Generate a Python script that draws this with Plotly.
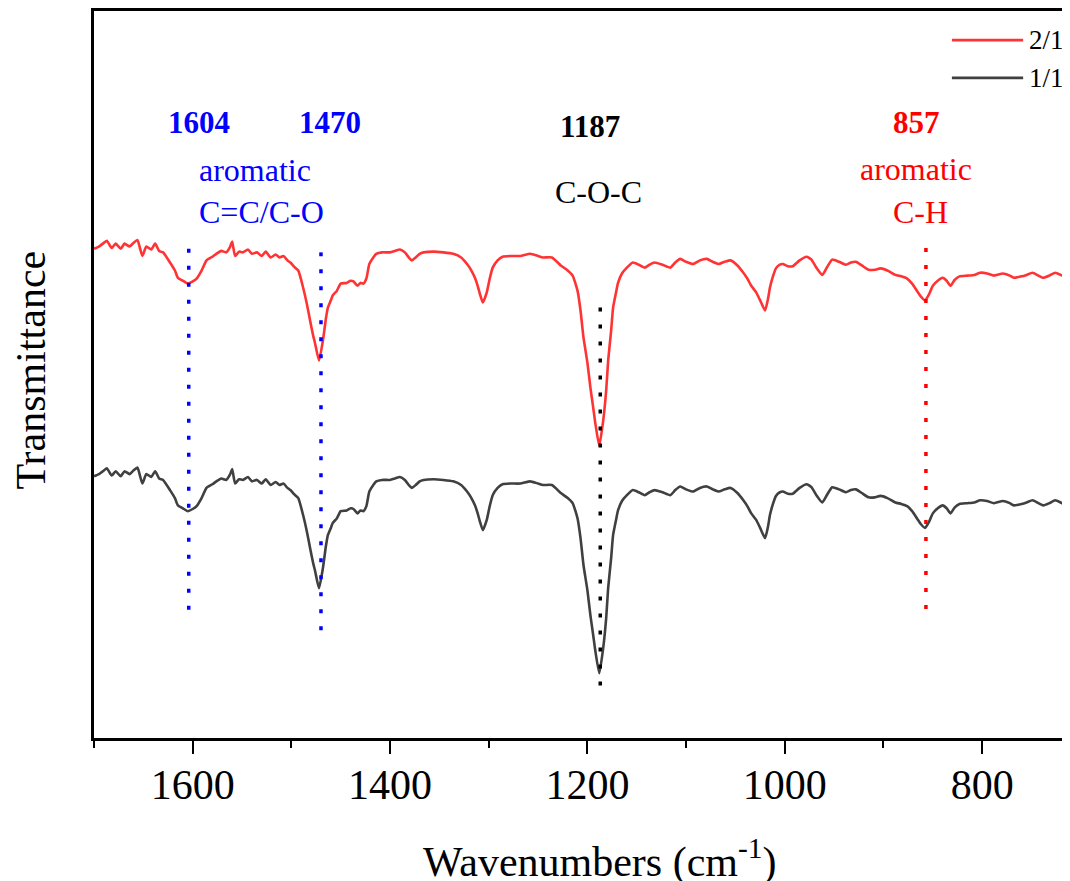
import plotly.graph_objects as go

# ---------------- data ----------------
wavenumber = [
    1700, 1695, 1690, 1687, 1682, 1678, 1673, 1669, 1664, 1660,
    1656, 1651, 1647, 1642, 1638, 1634, 1630, 1623, 1618, 1615,
    1610, 1605, 1600, 1596, 1591, 1586, 1580, 1576, 1571, 1566,
    1562, 1560, 1557, 1553, 1549, 1544, 1540, 1535, 1530, 1526,
    1521, 1516, 1512, 1508, 1504, 1501, 1497, 1493, 1488, 1484,
    1481, 1478, 1476, 1472, 1468, 1465, 1463, 1460, 1458, 1454,
    1450, 1444, 1440, 1437, 1433, 1430, 1427, 1424, 1421, 1417,
    1414, 1408, 1400, 1395, 1390, 1385, 1381, 1378, 1374, 1370,
    1366, 1356, 1346, 1336, 1328, 1322, 1318, 1314, 1311, 1309,
    1306, 1302, 1299, 1296, 1291, 1286, 1278, 1268, 1258, 1250,
    1245, 1236, 1227, 1220, 1215, 1210, 1207, 1204, 1200, 1197,
    1194, 1192, 1188, 1184, 1181, 1179, 1176, 1174, 1171, 1169,
    1165, 1160, 1154, 1148, 1142, 1137, 1132, 1124, 1116, 1111,
    1106, 1100, 1093, 1086, 1079, 1073, 1067, 1061, 1055, 1048,
    1042, 1038, 1034, 1029, 1025, 1020, 1017, 1015, 1012, 1009,
    1005, 1002, 997, 992, 985, 978, 973, 968, 962, 957,
    952, 945, 938, 933, 928, 922, 915, 909, 903, 896,
    888, 882, 876, 871, 866, 862, 858, 854, 850, 845,
    840, 836, 832, 828, 823, 815, 808, 802, 795, 788,
    779, 772, 768, 760, 755, 749, 743, 738, 732, 726,
    719, 712, 710,
]

trans_2_1 = [
    67.3, 67.6, 68.1, 68.4, 67.4, 68.0, 67.3, 68.0, 67.6, 68.1,
    68.5, 66.3, 67.6, 67.2, 68.0, 67.0, 66.8, 65.4, 64.3, 63.3,
    62.9, 62.5, 62.8, 63.2, 64.3, 65.7, 66.2, 66.6, 67.0, 66.8,
    67.6, 68.3, 66.3, 66.9, 66.8, 67.2, 66.6, 66.8, 66.3, 66.9,
    66.1, 66.5, 66.1, 66.3, 65.7, 65.4, 64.8, 64.3, 61.9, 59.5,
    57.4, 55.4, 54.3, 51.9, 54.7, 57.7, 59.2, 60.2, 60.9, 61.5,
    62.5, 62.6, 62.9, 62.8, 62.2, 62.6, 62.5, 63.2, 65.2, 66.1,
    66.6, 66.8, 66.8, 67.0, 67.2, 66.8, 66.1, 65.7, 66.1, 66.6,
    66.8, 66.9, 66.8, 66.6, 66.1, 65.2, 64.4, 63.3, 62.1, 61.1,
    59.9, 61.3, 63.2, 64.7, 65.7, 66.2, 66.3, 66.3, 66.6, 66.3,
    66.1, 66.1, 65.0, 64.3, 63.6, 61.5, 58.8, 55.1, 51.6, 48.2,
    45.3, 43.3, 40.2, 43.7, 47.8, 51.9, 56.0, 59.2, 61.3, 62.6,
    63.9, 64.7, 65.4, 65.1, 64.7, 65.1, 65.4, 65.1, 64.7, 65.4,
    65.9, 65.5, 65.2, 65.7, 65.9, 65.5, 65.2, 65.5, 65.7, 65.0,
    64.0, 63.2, 62.2, 61.3, 60.2, 58.8, 60.4, 62.0, 63.5, 64.6,
    65.1, 65.2, 64.9, 64.9, 65.7, 66.2, 65.8, 64.7, 63.7, 64.8,
    65.8, 65.5, 65.1, 65.4, 65.5, 65.0, 64.4, 64.4, 64.6, 64.3,
    63.7, 63.5, 63.2, 62.5, 61.5, 60.7, 60.2, 61.0, 62.2, 62.9,
    63.3, 62.9, 62.2, 63.0, 63.5, 63.6, 63.7, 64.0, 63.9, 63.6,
    63.9, 63.6, 63.3, 63.5, 63.7, 64.0, 63.6, 63.3, 63.6, 64.0,
    63.6, 63.2, 63.2,
]

trans_1_1 = [
    36.0, 36.3, 36.8, 37.1, 36.1, 36.7, 36.0, 36.7, 36.3, 36.8,
    37.2, 35.0, 36.3, 35.9, 36.7, 35.7, 35.5, 34.1, 33.0, 32.0,
    31.6, 31.2, 31.5, 31.9, 33.0, 34.4, 34.9, 35.3, 35.7, 35.5,
    36.3, 37.0, 35.0, 35.6, 35.5, 35.9, 35.3, 35.5, 35.0, 35.6,
    34.8, 35.2, 34.8, 35.0, 34.4, 34.1, 33.5, 33.0, 30.6, 28.2,
    26.1, 24.1, 23.0, 20.6, 23.4, 26.4, 27.9, 28.9, 29.6, 30.2,
    31.2, 31.3, 31.6, 31.5, 30.9, 31.3, 31.2, 31.9, 33.9, 34.8,
    35.3, 35.5, 35.5, 35.7, 35.9, 35.5, 34.8, 34.4, 34.8, 35.3,
    35.5, 35.6, 35.5, 35.3, 34.8, 33.9, 33.1, 32.0, 30.8, 29.8,
    28.6, 30.0, 31.9, 33.4, 34.4, 34.9, 35.0, 35.0, 35.3, 35.0,
    34.8, 34.8, 33.7, 33.0, 32.3, 30.2, 27.5, 23.8, 20.3, 16.9,
    14.0, 12.0, 8.9, 12.4, 16.5, 20.6, 24.7, 27.9, 30.0, 31.3,
    32.6, 33.4, 34.1, 33.8, 33.4, 33.8, 34.1, 33.8, 33.4, 34.1,
    34.6, 34.2, 33.9, 34.4, 34.6, 34.2, 33.9, 34.2, 34.4, 33.7,
    32.7, 31.9, 30.9, 30.0, 28.9, 27.5, 29.1, 30.7, 32.2, 33.3,
    33.8, 33.9, 33.6, 33.6, 34.4, 34.9, 34.5, 33.4, 32.4, 33.5,
    34.5, 34.2, 33.8, 34.1, 34.2, 33.7, 33.1, 33.1, 33.3, 33.0,
    32.4, 32.2, 31.9, 31.2, 30.2, 29.4, 28.9, 29.7, 30.9, 31.6,
    32.0, 31.6, 30.9, 31.7, 32.2, 32.3, 32.4, 32.7, 32.6, 32.3,
    32.6, 32.3, 32.0, 32.2, 32.4, 32.7, 32.3, 32.0, 32.3, 32.7,
    32.3, 31.9, 31.9,
]

series_names = ["2/1", "1/1"]
series_colors = ["#FF3333", "#404040"]

band_positions = [1604, 1470, 1187, 857]
band_top = [67.3, 66.8, 59.2, 67.4]
band_bottom = [16.8, 13.5, 6.9, 17.2]
band_colors = ["#0000FF", "#0000FF", "#000000", "#FF0000"]

FONT = "Liberation Serif, Times New Roman, serif"

fig = go.Figure()

for name, ys, col in zip(series_names, [trans_2_1, trans_1_1], series_colors):
    fig.add_trace(go.Scatter(
        x=wavenumber, y=ys, mode="lines", name=name,
        line=dict(color=col, width=2.6, shape="spline", smoothing=0.5),
        showlegend=False,
    ))

for bx, bt, bb, bc in zip(band_positions, band_top, band_bottom, band_colors):
    fig.add_trace(go.Scatter(
        x=[bx, bx], y=[bt, bb], mode="lines",
        line=dict(color=bc, width=3.5, dash="4px,13px"),
        showlegend=False, hoverinfo="skip",
    ))

annotations = []
# peak labels (bold numbers)
label_specs = [
    ("1604", 1594, 84.6, "#0000FF"),
    ("1470", 1461, 84.6, "#0000FF"),
    ("1187", 1197.5, 84.1, "#000000"),
    ("857", 867, 84.6, "#FF0000"),
]
for txt, x, y, c in label_specs:
    annotations.append(dict(
        x=x, y=y, xref="x", yref="y", text="<b>%s</b>" % txt, showarrow=False,
        font=dict(family=FONT, size=31, color=c), xanchor="center", yanchor="middle",
    ))
# descriptive labels
desc_specs = [
    ("aromatic", 1596, 78.1, "#0000FF", "left"),
    ("C=C/C-O", 1596, 72.4, "#0000FF", "left"),
    ("C-O-C", 1189, 75.1, "#000000", "center"),
    ("aromatic", 867, 78.3, "#FF0000", "center"),
    ("C-H", 862, 72.4, "#FF0000", "center"),
]
for txt, x, y, c, anc in desc_specs:
    annotations.append(dict(
        x=x, y=y, xref="x", yref="y", text=txt, showarrow=False,
        font=dict(family=FONT, size=32, color=c), xanchor=anc, yanchor="middle",
    ))

# axis titles
annotations.append(dict(
    x=(599 - 94) / 976, y=-0.167, xref="paper", yref="paper",
    text="Wavenumbers (cm<sup>-1</sup>)", showarrow=False,
    font=dict(family=FONT, size=42, color="black"), xanchor="center", yanchor="middle",
))
annotations.append(dict(
    x=-0.065, y=(738 - 370) / 727, xref="paper", yref="paper",
    text="Transmittance", showarrow=False, textangle=-90,
    font=dict(family=FONT, size=42, color="black"), xanchor="center", yanchor="middle",
))

# manual legend
shapes = []
legend_y = [0.960, 0.908]
for name, col, ly in zip(series_names, series_colors, legend_y):
    shapes.append(dict(type="line", xref="paper", yref="paper",
                       x0=0.879, x1=0.952, y0=ly, y1=ly,
                       line=dict(color=col, width=2.6)))
    annotations.append(dict(
        x=0.956, y=ly, xref="paper", yref="paper", text=name, showarrow=False,
        font=dict(family=FONT, size=27, color="black"), xanchor="left", yanchor="middle",
    ))

# page body has an 8px default margin, so the figure is offset by 8px
fig.update_layout(
    width=1062, height=873,
    margin=dict(l=86, r=0, t=3, b=143),
    plot_bgcolor="white", paper_bgcolor="white",
    annotations=annotations, shapes=shapes,
    showlegend=False,
    font=dict(family=FONT, color="black"),
)

fig.update_xaxes(
    range=[1700, 711], dtick=200, tick0=0,
    showgrid=False, zeroline=False,
    showline=True, linecolor="black", linewidth=2.5, mirror=True,
    ticks="outside", ticklen=13, tickwidth=2.2, tickcolor="black",
    minor=dict(dtick=100, tick0=0, ticks="outside", ticklen=7, tickwidth=2.2, tickcolor="black"),
    tickfont=dict(family=FONT, size=42, color="black"),
    ticklabelstandoff=-5,
)
fig.update_yaxes(
    range=[0, 100], showgrid=False, zeroline=False,
    showline=True, linecolor="black", linewidth=2.5, mirror=False,
    ticks="", showticklabels=False,
)

fig.write_html("out.html")
